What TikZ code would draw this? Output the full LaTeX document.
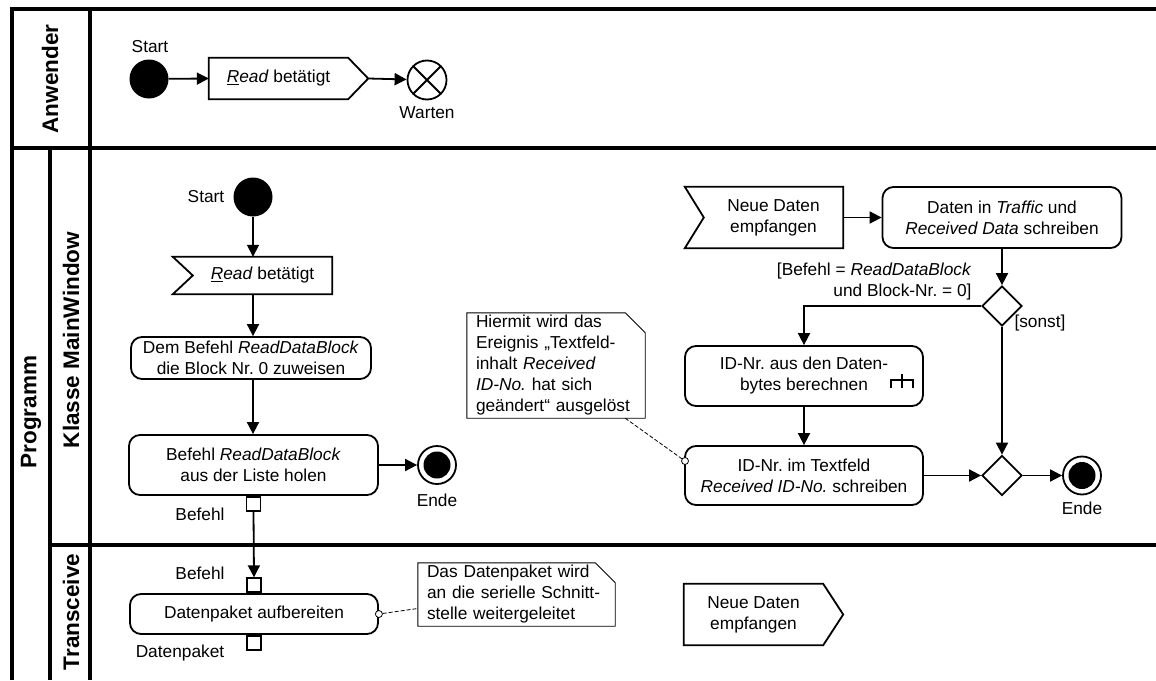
\documentclass[tikz,border=0pt]{standalone}
\usepackage{fontspec}
\setmainfont{Liberation Sans}
\usetikzlibrary{arrows.meta,shapes.geometric,calc}
\frenchspacing

\begin{document}
\begin{tikzpicture}[x=1pt,y=-1pt,
  font=\fontsize{17.3}{21}\selectfont,
  lane/.style={line width=3.2pt},
  lanelabel/.style={font=\fontsize{22.5}{26}\selectfont\bfseries, rotate=90, inner sep=0pt},
  flowarrow/.style={line width=1.8pt,-{Triangle[length=12pt,width=12pt]}},
  act/.style={draw, line width=1.8pt, rounded corners=11pt, align=center, inner sep=0pt},
  sigbox/.style={inner sep=0pt, align=center},
  sigline/.style={line width=1.8pt, line join=miter},
  startnode/.style={circle, fill=black, minimum size=39pt, inner sep=0pt},
  finalnode/.style={circle, draw, line width=1.8pt, minimum size=38pt, inner sep=0pt,
    path picture={\fill (path picture bounding box.center) circle (13.5pt);}},
  flowfinal/.style={circle, draw, line width=1.8pt, minimum size=39pt, inner sep=0pt,
    path picture={\draw[line width=1.8pt]
      (path picture bounding box.north west) -- (path picture bounding box.south east)
      (path picture bounding box.north east) -- (path picture bounding box.south west);}},
  decision/.style={diamond, draw, line width=1.8pt, minimum width=40pt, minimum height=40pt, inner sep=0pt},
  pinbox/.style={draw, line width=1.8pt, fill=white, minimum size=14pt, inner sep=0pt},
  notebox/.style={inner xsep=9pt, inner ysep=0pt, align=left},
  noteline/.style={line width=0.9pt},
  anchorring/.style={circle, draw, fill=white, line width=0.8pt, minimum size=7pt, inner sep=0pt},
  conn/.style={line width=0.8pt, dash pattern=on 4pt off 2pt},
  rake/.style={line width=1.6pt}
]
\useasboundingbox (0,0) rectangle (1156,680);

% ---------- swimlanes ----------
\draw[lane] (12,680) -- (12,9) -- (1156,9);
\draw[lane] (90,9) -- (90,680);
\draw[lane] (12,148) -- (1156,148);
\draw[lane] (50,148) -- (50,680);
\draw[lane] (50,545) -- (1156,545);

\node[lanelabel] (lAnw)  at (50,79)  {Anwender};
\node[lanelabel] (lProg) at (31,412) {Programm};
\node[lanelabel] (lMain) at (71,340) {Klasse MainWindow};
\node[lanelabel] (lTrx)  at (71,612) {Transceive};

% ---------- lane: Anwender ----------
\node[startnode] (s0) at (149,79) {};
\node (s0l) at (150,47) {Start};
\node[sigbox, minimum width=139pt, minimum height=41pt] (sendRead) at (278.5,78.5)
  {\underline{\textit{R}}\textit{ead} betätigt};
\coordinate (sendReadTip) at ([xshift=20pt]sendRead.east);
\draw[sigline] (sendRead.north west) -- (sendRead.north east) -- (sendReadTip)
  -- (sendRead.south east) -- (sendRead.south west) -- cycle;
\node[flowfinal] (wait) at (427,80) {};
\node (waitl) at (427,113) {Warten};

\draw[flowarrow] (s0) -- (sendRead.west);
\draw[flowarrow] (sendReadTip) -- (wait);

% ---------- lane: Klasse MainWindow (left flow) ----------
\node (s1l) at (206,197) {Start};
\node[startnode] (s1) at (253,197) {};
\node[sigbox, minimum width=139pt, minimum height=37pt] (recvRead) at (262.5,275.5)
  {\underline{\textit{R}}\textit{ead} betätigt};
\draw[sigline] ([xshift=-20pt]recvRead.north west) -- (recvRead.north east)
  -- (recvRead.south east) -- ([xshift=-20pt]recvRead.south west) -- (recvRead.west) -- cycle;

\node[act, minimum width=240pt, minimum height=42pt] (actA) at (251,358)
  {Dem Befehl \textit{ReadDataBlock}\\die Block Nr.~0 zuweisen};
\node[act, minimum width=249pt, minimum height=60pt] (actB) at (253.5,465)
  {Befehl \textit{ReadDataBlock}\\aus der Liste holen};
\node[pinbox, anchor=north] (pB) at (actB.south) {};
\node (pBl) at (200,514) {Befehl};
\node[finalnode] (end1) at (437,465) {};
\node (end1l) at (437,500) {Ende};

\draw[flowarrow] (s1) -- (s1 |- recvRead.north);
\draw[flowarrow] (s1 |- recvRead.south) -- (s1 |- actA.north);
\draw[flowarrow] (s1 |- actA.south) -- (s1 |- actB.north);
\draw[flowarrow] (actB.east) -- (end1);

% ---------- lane: Klasse MainWindow (right flow) ----------
\node[sigbox, minimum width=139pt, minimum height=61pt] (recvNeu) at (773.5,217.5)
  {Neue Daten\\empfangen};
\draw[sigline] ([xshift=-19pt]recvNeu.north west) -- (recvNeu.north east)
  -- (recvNeu.south east) -- ([xshift=-19pt]recvNeu.south west) -- (recvNeu.west) -- cycle;

\node[act, minimum width=239pt, minimum height=61pt] (actT) at (1002,217.5)
  {Daten in \textit{Traffic} und\\\textit{Received Data} schreiben};
\node[decision] (dec1) at (1002,306) {};
\node[align=right, anchor=east] (guard1) at (975,282)
  {[Befehl = \textit{ReadDataBlock}\\und Block-Nr. = 0]};
\node (guard2) at (1040,323) {[sonst]};

\node[act, minimum width=238pt, minimum height=60pt] (actC) at (804,376)
  {ID-Nr. aus den Daten-\\bytes berechnen};
\begin{scope}[shift={(actC.east)}]
  \draw[rake] (-33,12) -- (-33,4) -- (-11,4) -- (-11,12)
              (-22,-2) -- (-22,12);
\end{scope}
\node[act, minimum width=238pt, minimum height=59pt] (actD) at (804,475.5)
  {ID-Nr. im Textfeld\\\textit{Received ID-No.} schreiben};
\node[decision] (dec2) at (1002,475.5) {};
\node[finalnode] (end2) at (1082,475.5) {};
\node (end2l) at (1082,508) {Ende};

\draw[flowarrow] (recvNeu.east) -- (actT.west);
\draw[flowarrow] (actT.south) -- (dec1.north);
\draw[flowarrow] (dec1.west) -| (actC.north);
\draw[flowarrow] (actC.south) -- (actD.north);
\draw[flowarrow] (dec1.south) -- (dec2.north);
\draw[flowarrow] (actD.east) -- (dec2.west);
\draw[flowarrow] (dec2.east) -- (end2);

% note on the text field event
\node[notebox, text width=160pt, minimum height=105pt] (note1) at (556,365.5)
  {Hiermit wird das\\Ereignis „Textfeld-\\inhalt \textit{Received}\\\textit{ID-No.} hat sich\\geändert“ ausgelöst};
\draw[noteline] (note1.north west) -- ([xshift=-20pt]note1.north east)
  -- ([yshift=-20pt]note1.north east) -- (note1.south east) -- (note1.south west) -- cycle;
\node[anchorring] (ring1) at (685,461) {};
\draw[conn] ([xshift=-20pt]note1.south east) -- (ring1);

% ---------- lane: Transceive ----------
\node[act, minimum width=248pt, minimum height=40pt] (actE) at (254,614)
  {Datenpaket aufbereiten};
\node[pinbox, anchor=south] (pEin) at (actE.north) {};
\node[pinbox, anchor=north] (pEout) at (actE.south) {};
\node (pEinl) at (200,573) {Befehl};
\node (pEoutl) at (180,653) {Datenpaket};

\draw[flowarrow] (pB.south) -- (pEin.north);

\node[notebox, text width=179pt, minimum height=63pt] (note2) at (516.5,594.5)
  {Das Datenpaket wird\\an die serielle Schnitt-\\stelle weitergeleitet};
\draw[noteline] (note2.north west) -- ([xshift=-20pt]note2.north east)
  -- ([yshift=-20pt]note2.north east) -- (note2.south east) -- (note2.south west) -- cycle;
\node[anchorring] (ring2) at (actE.east) {};
\draw[conn] (ring2) -- ([yshift=-14pt]note2.west);

\node[sigbox, minimum width=139pt, minimum height=61pt] (sendNeu) at (753.5,614.5)
  {Neue Daten\\empfangen};
\coordinate (sendNeuTip) at ([xshift=20pt]sendNeu.east);
\draw[sigline] (sendNeu.north west) -- (sendNeu.north east) -- (sendNeuTip)
  -- (sendNeu.south east) -- (sendNeu.south west) -- cycle;

\end{tikzpicture}
\end{document}
